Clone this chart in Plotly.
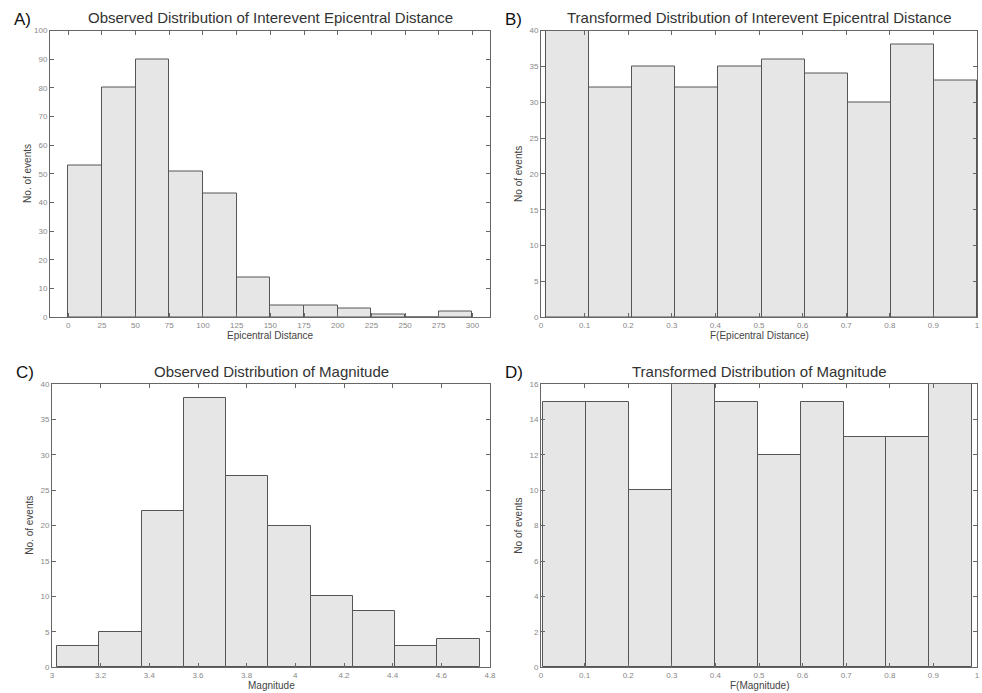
import plotly.graph_objects as go

W, H = 982, 693

# ---- data ----
dist_edges = [0, 25, 50, 75, 100, 125, 150, 175, 200, 225, 250, 275, 300]
dist_counts = [53, 80, 90, 51, 43, 14, 4, 4, 3, 1, 0, 2]

fdist_edges = [0.0115, 0.1104, 0.2092, 0.3081, 0.4069, 0.5058, 0.6046, 0.7035, 0.8023, 0.9012, 1.0]
fdist_counts = [40, 32, 35, 32, 35, 36, 34, 30, 38, 33]

mag_edges = [3.021, 3.194, 3.368, 3.542, 3.716, 3.889, 4.063, 4.237, 4.410, 4.584, 4.758]
mag_counts = [3, 5, 22, 38, 27, 20, 10, 8, 3, 4]

fmag_edges = [0.005, 0.1034, 0.2018, 0.3002, 0.3986, 0.497, 0.5954, 0.6938, 0.7922, 0.8906, 0.989]
fmag_counts = [15, 15, 10, 16, 15, 12, 15, 13, 13, 16]

dist_ticks = [0, 25, 50, 75, 100, 125, 150, 175, 200, 225, 250, 275, 300]
unit_ticks = [0, 0.1, 0.2, 0.3, 0.4, 0.5, 0.6, 0.7, 0.8, 0.9, 1]
unit_ticklabels = ["0", "0.1", "0.2", "0.3", "0.4", "0.5", "0.6", "0.7", "0.8", "0.9", "1"]
mag_ticks = [3, 3.2, 3.4, 3.6, 3.8, 4, 4.2, 4.4, 4.6, 4.8]
mag_ticklabels = ["3", "3.2", "3.4", "3.6", "3.8", "4", "4.2", "4.4", "4.6", "4.8"]

titles = ["Observed Distribution of Interevent Epicentral Distance",
          "Transformed Distribution of Interevent Epicentral Distance",
          "Observed Distribution of Magnitude",
          "Transformed Distribution of Magnitude"]
xlabels = ["Epicentral Distance", "F(Epicentral Distance)", "Magnitude", "F(Magnitude)"]
ylabels = ["No. of events", "No of events", "No. of events", "No of events"]
letters = ["A)", "B)", "C)", "D)"]

# ---- styling ----
FONT = "Liberation Sans, Arial, sans-serif"
BAR_FILL = "#e6e6e6"
BAR_EDGE = "#555555"
AX = "#666666"

# pixel boxes of the four axes (left, right, top, bottom)
boxes = [(50, 490, 30.5, 317.3), (541, 977, 30.5, 317.3),
         (52, 490, 384, 667.3), (541, 977, 384, 667.3)]

def px_x(p):
    return p / W

def px_y(p):
    return 1 - p / H

fig = go.Figure()

panels = [
    (dist_edges, dist_counts, [-13.5, 313], [0, 100], dict(tickvals=dist_ticks), 10),
    (fdist_edges, fdist_counts, [0, 1], [0, 40], dict(tickvals=unit_ticks, ticktext=unit_ticklabels), 5),
    (mag_edges, mag_counts, [3, 4.8], [0, 40], dict(tickvals=mag_ticks, ticktext=mag_ticklabels), 5),
    (fmag_edges, fmag_counts, [0, 1], [0, 16], dict(tickvals=unit_ticks, ticktext=unit_ticklabels), 2),
]

annotations = []
for i, (edges, counts, xr, yr, xt, ydt) in enumerate(panels):
    n = i + 1
    xa = "x" if n == 1 else f"x{n}"
    ya = "y" if n == 1 else f"y{n}"
    centers = [(edges[k] + edges[k + 1]) / 2 for k in range(len(counts))]
    widths = [edges[k + 1] - edges[k] for k in range(len(counts))]
    fig.add_trace(go.Bar(
        x=centers, y=counts, width=widths, xaxis=xa, yaxis=ya,
        marker=dict(color=BAR_FILL, line=dict(color=BAR_EDGE, width=1)),
        showlegend=False, hoverinfo="x+y"))
    l, r, t, b = boxes[i]
    common = dict(showline=True, linecolor=AX, linewidth=1, mirror="ticks",
                  ticks="inside", ticklen=4, tickcolor=AX, showgrid=False,
                  zeroline=False, automargin=False,
                  tickfont=dict(size=8, color="#888888", family=FONT))
    fig.layout[("xaxis" if n == 1 else f"xaxis{n}")] = dict(
        domain=[px_x(l), px_x(r)], range=xr, anchor=ya, tickmode="array", **xt, **common)
    fig.layout[("yaxis" if n == 1 else f"yaxis{n}")] = dict(
        domain=[px_y(b), px_y(t)], range=yr, anchor=xa, dtick=ydt, tick0=0, **common)

    cx = (l + r) / 2
    annotations.append(dict(text=titles[i], x=px_x(cx), y=px_y(t - 13), xref="paper", yref="paper",
                            showarrow=False, xanchor="center", yanchor="middle",
                            font=dict(size=15, color="#333333", family=FONT)))
    annotations.append(dict(text=xlabels[i], x=px_x(cx), y=px_y(b + 18), xref="paper", yref="paper",
                            showarrow=False, xanchor="center", yanchor="middle",
                            font=dict(size=10, color="#444444", family=FONT)))
    annotations.append(dict(text=ylabels[i], x=px_x(l - 22), y=px_y((t + b) / 2), xref="paper", yref="paper",
                            showarrow=False, xanchor="center", yanchor="middle", textangle=-90,
                            font=dict(size=10, color="#444444", family=FONT)))
    annotations.append(dict(text=letters[i], x=px_x(l - 38), y=px_y(t - 11), xref="paper", yref="paper",
                            showarrow=False, xanchor="left", yanchor="middle",
                            font=dict(size=17, color="#111111", family=FONT)))

fig.update_layout(width=W, height=H, margin=dict(l=0, r=0, t=0, b=0),
                  paper_bgcolor="white", plot_bgcolor="white", bargap=0,
                  annotations=annotations, font=dict(family=FONT))

fig.write_html("out.html", config={"displayModeBar": False},
               post_script="document.body.style.margin='0';document.body.style.overflow='hidden';")
